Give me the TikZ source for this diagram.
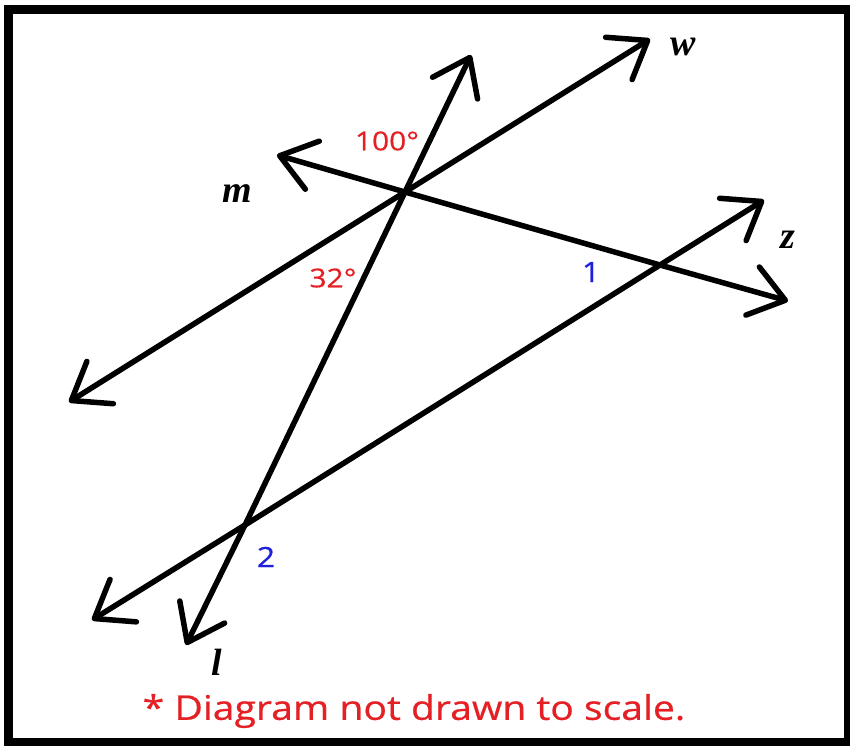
\documentclass[tikz,border=0pt]{standalone}
\usepackage{fontspec}
\setmainfont{Liberation Serif}
\newfontfamily\comicfont[FakeStretch=1.15,FakeBold=0.6]{Open Sans}
\usetikzlibrary{arrows.meta}
\definecolor{lblred}{RGB}{228,32,36}
\definecolor{lblblue}{RGB}{32,32,220}
\begin{document}
\begin{tikzpicture}[x=1pt,y=-1pt,
  barb/.tip={Straight Barb[round,length=34pt,width=50pt]},
  ln/.style={line width=5.5pt, line cap=round, barb-barb},
  letter/.style={font=\fontsize{38}{42}\selectfont\bfseries\itshape, text=black, inner sep=0pt},
  redlbl/.style={font=\comicfont\fontsize{26}{30}\selectfont, text=lblred, inner sep=0pt},
  bluelbl/.style={font=\comicfont\fontsize{28}{32}\selectfont, text=lblblue, inner sep=0pt}]
\useasboundingbox (0,0) rectangle (850,745);
\fill[white] (0,0) rectangle (850,745);
\draw[line width=9pt] (8.5,9.5) rectangle (848.5,742.5);
% intersections
\coordinate (A) at (405,192);
\coordinate (B) at (245,525);
\coordinate (C) at (660,265);
% line ends
\coordinate (lT) at (471,55);
\coordinate (lB) at (186,645);
\coordinate (wT) at (650,39);
\coordinate (wB) at (69,402);
\coordinate (zT) at (764,200);
\coordinate (zB) at (92,620);
\coordinate (mL) at (277,155);
\coordinate (mR) at (788,301);
% lines
\draw[ln] (lB) -- (B) -- (A) -- (lT);
\draw[ln] (wB) -- (A) -- (wT);
\draw[ln] (zB) -- (B) -- (C) -- (zT);
\draw[ln] (mL) -- (A) -- (C) -- (mR);
% labels
\node[letter] (labw) at (683,47) {w};
\node[letter] (labm) at (237,194) {m};
\node[letter] (labz) at (788,240) {z};
\node[letter] (labl) at (217,662) {l};
\node[redlbl] (a100) at (387,141) {100°};
\node[redlbl] (a32) at (333,278) {32°};
\node[bluelbl] (ang1) at (591,272) {1};
\node[bluelbl] (ang2) at (266,557) {2};
\node[font=\comicfont\fontsize{34}{38}\selectfont, text=lblred, inner sep=0pt] (note) at (414,711) {* Diagram not drawn to scale.};
\end{tikzpicture}
\end{document}
